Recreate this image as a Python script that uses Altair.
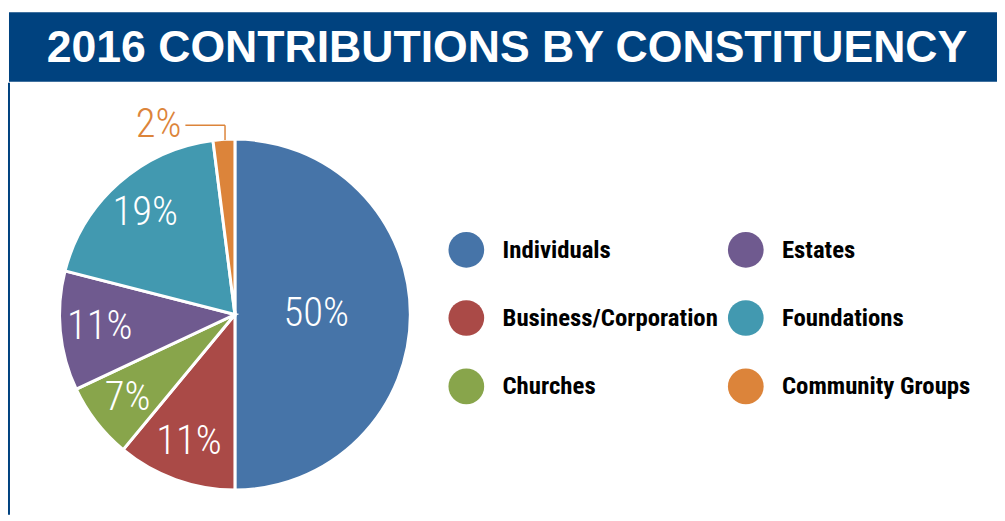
import altair as alt
import pandas as pd

title_text = "2016 CONTRIBUTIONS BY CONSTITUENCY"
categories = ["Individuals", "Business/Corporation", "Churches", "Estates", "Foundations", "Community Groups"]
values = [50, 11, 7, 11, 19, 2]
colors = ["#4674a8", "#aa4a47", "#88a54b", "#6f5a8f", "#4299b0", "#dc843a"]

df = pd.DataFrame({"category": categories, "value": values})
df["end"] = df["value"].cumsum()
df["start"] = df["end"] - df["value"]
df["mid"] = (df["start"] + df["end"]) / 2
df["label"] = df["value"].astype(str) + "%"

NAVY = "#00427f"
W = 997
H_HEAD = 70
H_BODY = 436
CX, CY, R = 228, 234, 177
COND = "'Roboto Condensed', 'Open Sans Condensed', 'Liberation Sans', sans-serif"

theta_scale = alt.Scale(domain=[0, 100], range=[0, 6.283185307])

header = alt.Chart(pd.DataFrame({"t": [title_text]})).mark_text(
    font="Liberation Sans", fontWeight="bold", fontSize=45, color="white",
    align="center", baseline="middle", dy=1
).encode(
    text="t:N", x=alt.value(W / 2 + 4), y=alt.value(H_HEAD / 2)
).properties(width=W, height=H_HEAD, view=alt.ViewBackground(fill=NAVY, stroke=None))

base = alt.Chart(df).encode(x=alt.value(CX), y=alt.value(CY))

arcs = base.mark_arc(radius=R, stroke="white", strokeWidth=3).encode(
    theta=alt.Theta("start:Q", scale=theta_scale, stack=None),
    theta2="end:Q",
    color=alt.Color(
        "category:N",
        scale=alt.Scale(domain=categories, range=colors),
        legend=alt.Legend(
            title=None, orient="none", legendX=443, legendY=221, columns=2,
            symbolType="circle", symbolSize=1300, symbolStrokeWidth=0, symbolOpacity=1,
            labelFont=COND, labelFontSize=25, labelFontWeight="bold", labelColor="black",
            labelOffset=18, labelLimit=400, rowPadding=32, columnPadding=9, padding=0,
        ),
    ),
)

label_style = dict(font=COND, fontSize=41, fontWeight=300, align="center", baseline="middle")

big_labels = base.transform_filter("datum.value >= 40").mark_text(
    radius=82, color="white", **label_style
).encode(theta=alt.Theta("mid:Q", scale=theta_scale, stack=None), text="label:N")

mid_labels = base.transform_filter("datum.value >= 3 && datum.value < 40").mark_text(
    radius=137, color="white", **label_style
).encode(theta=alt.Theta("mid:Q", scale=theta_scale, stack=None), text="label:N")

small_labels = base.transform_filter("datum.value < 3").mark_text(
    radius=R, color=colors[5], dx=-66, dy=-15, **label_style
).encode(theta=alt.Theta("mid:Q", scale=theta_scale, stack=None), text="label:N")

one = alt.Chart(pd.DataFrame({"a": [0]}))
lead_h = one.mark_rule(color=colors[5], strokeWidth=1.5).encode(
    x=alt.value(CX - 50), x2=alt.value(CX - 10), y=alt.value(CY - R - 14)
)
lead_v = one.mark_rule(color=colors[5], strokeWidth=1.5).encode(
    x=alt.value(CX - 10), y=alt.value(CY - R - 14), y2=alt.value(CY - R + 1)
)
border = one.mark_rule(color=NAVY, strokeWidth=2).encode(
    x=alt.value(0), y=alt.value(0), y2=alt.value(H_BODY)
)

body = alt.layer(arcs, big_labels, mid_labels, small_labels, lead_h, lead_v, border).properties(
    width=W, height=H_BODY
)

chart = alt.vconcat(header, body, spacing=0).properties(
    padding={"left": 0, "top": 2, "right": 0, "bottom": 0}
).configure_view(stroke=None)

chart.save("out.html", embed_options={"renderer": "svg", "actions": False})
